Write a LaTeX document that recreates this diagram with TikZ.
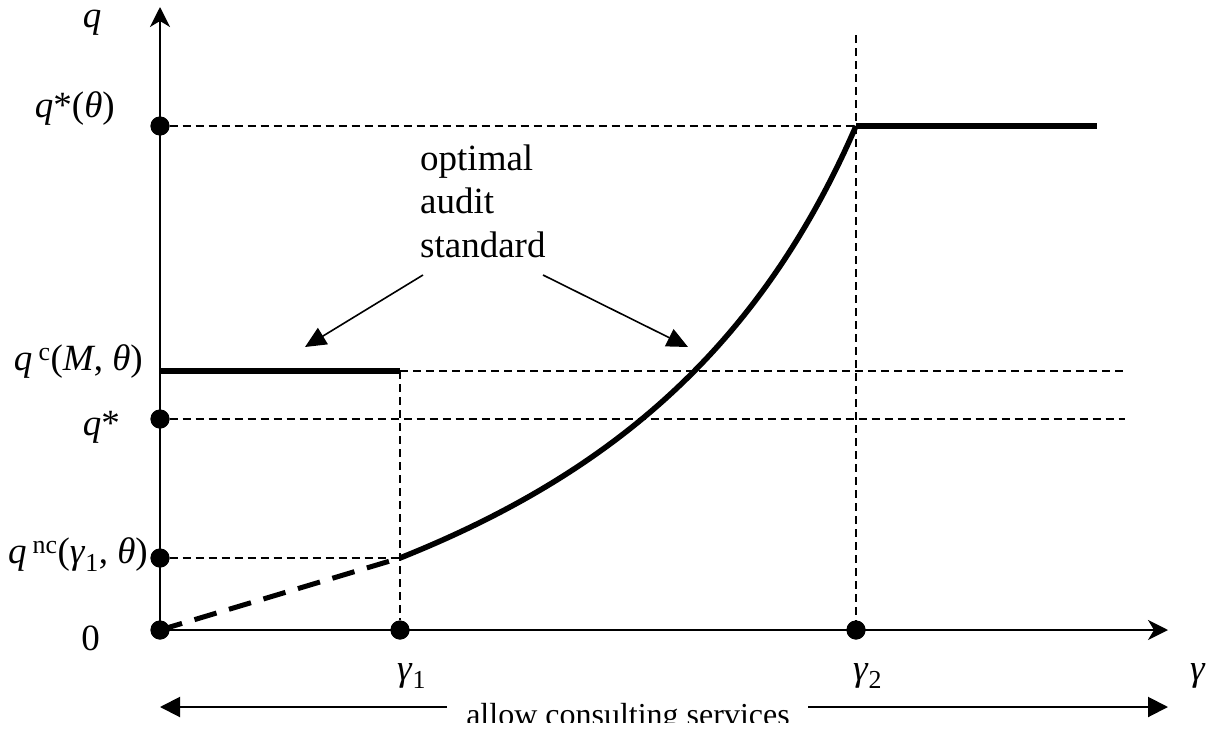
\documentclass[tikz,border=0pt]{standalone}
\usepackage{fontspec}
\setmainfont{Liberation Serif}
\usetikzlibrary{arrows.meta}
\begin{document}
\begin{tikzpicture}[x=1pt,y=-1pt,
  axis/.style={line width=2pt,-{Stealth[length=20pt,width=20pt,inset=6pt]}},
  guide/.style={line width=1.6pt,dash pattern=on 8pt off 5pt},
  heavy/.style={line width=5.5pt},
  heavydash/.style={line width=5pt,dash pattern=on 23pt off 13pt},
  dot/.style={circle,fill=black,inner sep=0pt,minimum size=19pt},
  lbl/.style={font=\fontsize{37}{43.5}\selectfont,inner sep=0pt},
  pointer/.style={line width=1.6pt,-{Triangle[length=21pt,width=19pt]}},
  span/.style={line width=2pt,-{Triangle[length=20pt,width=20pt]}},
]
\useasboundingbox (0,0) rectangle (1216,731);

% points on the axes
\node[dot] (o)   at (160,630) {};
\node[dot] (dqt) at (160,126) {};
\node[dot] (dqs) at (160,419) {};
\node[dot] (dqn) at (160,558) {};
\node[dot] (dg1) at (400,630) {};
\node[dot] (dg2) at (856,630) {};

\coordinate (ytip) at (160,7);
\coordinate (xtip) at (1168,630);
\coordinate (qc0)  at (160,371);
\coordinate (qc1)  at (400,371);
\coordinate (qcR)  at (1125,371);
\coordinate (qsR)  at (1125,419);
\coordinate (qn1)  at (400,558);
\coordinate (top)  at (856,126);
\coordinate (topR) at (1097,126);
\coordinate (g2up) at (856,35);

% guide lines
\draw[guide] (dqt) -- (top);
\draw[guide] (qc1) -- (qcR);
\draw[guide] (dqs) -- (qsR);
\draw[guide] (dqn) -- (qn1);
\draw[guide] (qc1) -- (dg1);
\draw[guide] (g2up) -- (dg2);

% axes
\draw[axis] (o.center) -- (ytip);
\draw[axis] (o.center) -- (xtip);

% audit standard
\draw[heavy] (qc0) -- (qc1);
\draw[heavydash] (o.center) -- (qn1);
\draw[heavy,line join=round] (qn1) .. controls (600,478) and (756,357) .. (top);
\draw[heavy] (top) -- (topR);

% dots on top of the lines
\foreach \d in {o,dqt,dqs,dqn,dg1,dg2} \fill (\d) circle (9.5pt);

% axis labels
\node[lbl,anchor=base] (lq) at (92,27) {\textit{q}};
\node[lbl,anchor=base east] (lqt) at (115,117) {\textit{q}*(\textit{θ})};
\node[lbl,anchor=base east] (lqc) at (143,370) {\textit{q}\,\textsuperscript{c}(\textit{M}, \textit{θ})};
\node[lbl,anchor=base east] (lqs) at (120,435) {\textit{q}*};
\node[lbl,anchor=base east] (lqn) at (148,563) {\textit{q}\,\textsuperscript{nc}(\textit{γ}\textsubscript{1}, \textit{θ})};
\node[lbl,anchor=base east] (l0) at (100,650) {0};
\node[lbl,anchor=base west] (lg1) at (397,680) {\textit{γ}\textsubscript{1}};
\node[lbl,anchor=base west] (lg2) at (853,680) {\textit{γ}\textsubscript{2}};
\node[lbl,anchor=base west] (lg) at (1190,680) {\textit{γ}};

% annotation
\node[lbl,anchor=base west,align=left] (opt) at (420,257) {optimal\\audit\\standard};
\coordinate (p1s) at (423,275);
\coordinate (p1e) at (305,347);
\coordinate (p2s) at (543,275);
\coordinate (p2e) at (688,347);
\draw[pointer] (p1s) -- (p1e);
\draw[pointer] (p2s) -- (p2e);

% range of consulting services
\begin{scope}
\clip (0,0) rectangle (1216,722);
\node[font=\fontsize{32}{38}\selectfont,inner sep=0pt,anchor=base] (acs) at (628,725) {allow consulting services};
\end{scope}
\coordinate (bL0) at (447,707);
\coordinate (bL1) at (160,707);
\coordinate (bR0) at (808,707);
\coordinate (bR1) at (1168,707);
\draw[span] (bL0) -- (bL1);
\draw[span] (bR0) -- (bR1);
\end{tikzpicture}
\end{document}
